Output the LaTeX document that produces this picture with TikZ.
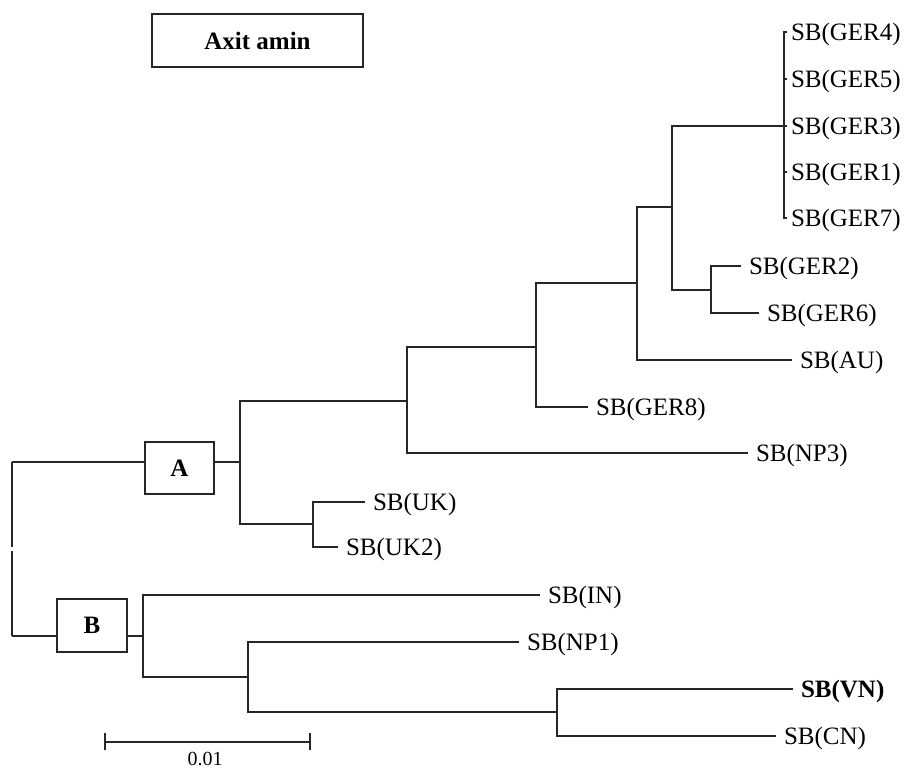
\documentclass[tikz,border=0pt]{standalone}
\usepackage{fontspec}
\setmainfont{Liberation Serif}
\begin{document}
\begin{tikzpicture}[x=1pt,y=-1pt,
  br/.style={line width=1.3pt, draw=black!85},
  leaf/.style={anchor=west, inner xsep=0pt, inner ysep=0pt, outer xsep=8pt, outer ysep=0pt, text height=16.5pt, text depth=0pt, font=\fontsize{25}{30}\selectfont},
  clf/.style={leaf, outer xsep=4pt},
  lbox/.style={draw=black!85, line width=1.3pt, font=\fontsize{25}{30}\selectfont\bfseries, inner sep=0pt, outer sep=0pt}
]
\useasboundingbox (0,0) rectangle (907,769);

% boxes
\node[lbox, minimum width=211pt, minimum height=53pt] (title) at (257.5,40.5) {Axit amin};
\node[lbox, minimum width=69pt, minimum height=52pt] (A) at (179.5,468) {A};
\node[lbox, minimum width=70pt, minimum height=53pt] (B) at (92,625.5) {B};

% internal nodes
\coordinate (rA) at (12,462);
\coordinate (rB) at (12,636);
\coordinate (gT) at (12,547);
\coordinate (gB) at (12,551);
\coordinate (nA) at (240,462);
\coordinate (nUK) at (313,524);
\coordinate (n407) at (407,401);
\coordinate (n536) at (536,347);
\coordinate (n637) at (637,283);
\coordinate (n672) at (672,207);
\coordinate (n711) at (711,290);
\coordinate (cl) at (784,126);
\coordinate (nB) at (143,636);
\coordinate (n248) at (248,677);
\coordinate (n557) at (557,712);

% leaves
\node[leaf] (UK) at (365,502) {SB(UK)};
\node[leaf] (UK2) at (338,547) {SB(UK2)};
\node[leaf] (NP3) at (748,453) {SB(NP3)};
\node[leaf] (GER8) at (588,407) {SB(GER8)};
\node[leaf] (AU) at (792,360) {SB(AU)};
\node[leaf] (GER2) at (741,266) {SB(GER2)};
\node[leaf] (GER6) at (759,313) {SB(GER6)};
\node[clf] (GER4) at (787,32) {SB(GER4)};
\node[clf] (GER5) at (787,79) {SB(GER5)};
\node[clf] (GER3) at (787,126) {SB(GER3)};
\node[clf] (GER1) at (787,172) {SB(GER1)};
\node[clf] (GER7) at (787,218) {SB(GER7)};
\node[leaf] (IN) at (540,595) {SB(IN)};
\node[leaf] (NP1) at (519,642) {SB(NP1)};
\node[leaf, font=\fontsize{25}{30}\selectfont\bfseries] (VN) at (793,689) {SB(VN)};
\node[leaf] (CN) at (776,736) {SB(CN)};

% root
\draw[br] (rA) -- (gT);
\draw[br] (gB) -- (rB);
\draw[br] (rA) -- (rA -| A.west);
\draw[br] (rB) -- (rB -| B.west);

% clade A
\draw[br] (nA -| A.east) -- (nA);
\draw[br] (nA) |- (n407);
\draw[br] (nA) |- (nUK);
\draw[br] (nUK) |- (UK.west);
\draw[br] (nUK) |- (UK2.west);
\draw[br] (n407) |- (n536);
\draw[br] (n407) |- (NP3.west);
\draw[br] (n536) |- (n637);
\draw[br] (n536) |- (GER8.west);
\draw[br] (n637) |- (n672);
\draw[br] (n637) |- (AU.west);
\draw[br] (n672) |- (cl);
\draw[br] (n672) |- (n711);
\draw[br] (n711) |- (GER2.west);
\draw[br] (n711) |- (GER6.west);
\draw[br] (cl) |- (GER4.west);
\draw[br] (cl) |- (GER7.west);
\draw[br] (cl) -- (GER3.west);
\draw[br] (cl |- GER5.west) -- (GER5.west);
\draw[br] (cl |- GER1.west) -- (GER1.west);

% clade B
\draw[br] (nB -| B.east) -- (nB);
\draw[br] (nB) |- (IN.west);
\draw[br] (nB) |- (n248);
\draw[br] (n248) |- (NP1.west);
\draw[br] (n248) |- (n557);
\draw[br] (n557) |- (VN.west);
\draw[br] (n557) |- (CN.west);

% scale bar
\coordinate (sbL) at (105,742);
\coordinate (sbR) at (310,742);
\draw[br] (sbL) -- (sbR);
\draw[br] ([yshift=9pt]sbL) -- ([yshift=-8pt]sbL);
\draw[br] ([yshift=9pt]sbR) -- ([yshift=-8pt]sbR);
\node[anchor=base, inner sep=0pt, font=\fontsize{20}{24}\selectfont] (sblab) at (205,765) {0.01};
\end{tikzpicture}
\end{document}
